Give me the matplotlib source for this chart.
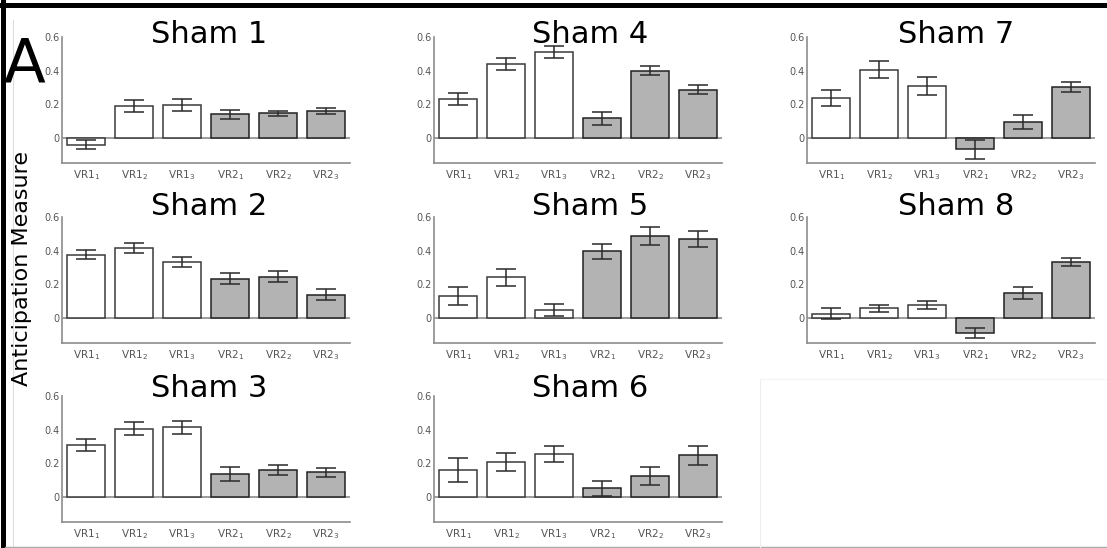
import matplotlib
matplotlib.use("Agg")
import matplotlib.pyplot as plt
from matplotlib.lines import Line2D

# Conditions on the x axis (sessions 1-3 of VR1 and VR2)
categories = [r"VR1$_1$", r"VR1$_2$", r"VR1$_3$", r"VR2$_1$", r"VR2$_2$", r"VR2$_3$"]
yticks = [0, 0.2, 0.4, 0.6]
ytick_labels = ["0", "0.2", "0.4", "0.6"]

# Mean anticipation measure and error per animal
sham1_mean = [-0.040, 0.188, 0.196, 0.139, 0.147, 0.160]
sham1_err = [0.025, 0.036, 0.035, 0.026, 0.015, 0.020]
sham2_mean = [0.376, 0.416, 0.331, 0.233, 0.245, 0.137]
sham2_err = [0.028, 0.029, 0.030, 0.032, 0.031, 0.032]
sham3_mean = [0.309, 0.406, 0.414, 0.135, 0.158, 0.145]
sham3_err = [0.038, 0.037, 0.038, 0.043, 0.031, 0.029]
sham4_mean = [0.232, 0.440, 0.511, 0.115, 0.398, 0.287]
sham4_err = [0.037, 0.034, 0.036, 0.040, 0.027, 0.028]
sham5_mean = [0.131, 0.240, 0.044, 0.396, 0.487, 0.469]
sham5_err = [0.054, 0.050, 0.036, 0.044, 0.056, 0.045]
sham6_mean = [0.160, 0.208, 0.255, 0.050, 0.123, 0.246]
sham6_err = [0.069, 0.053, 0.045, 0.046, 0.053, 0.055]
sham7_mean = [0.236, 0.406, 0.307, -0.069, 0.093, 0.303]
sham7_err = [0.048, 0.050, 0.054, 0.055, 0.043, 0.032]
sham8_mean = [0.024, 0.057, 0.075, -0.091, 0.147, 0.331]
sham8_err = [0.033, 0.020, 0.025, 0.032, 0.037, 0.023]

panels = [
    ("Sham 1", sham1_mean, sham1_err, 0, 0),
    ("Sham 2", sham2_mean, sham2_err, 1, 0),
    ("Sham 3", sham3_mean, sham3_err, 2, 0),
    ("Sham 4", sham4_mean, sham4_err, 0, 1),
    ("Sham 5", sham5_mean, sham5_err, 1, 1),
    ("Sham 6", sham6_mean, sham6_err, 2, 1),
    ("Sham 7", sham7_mean, sham7_err, 0, 2),
    ("Sham 8", sham8_mean, sham8_err, 1, 2),
]

W, H = 1107, 548
fig = plt.figure(figsize=(W / 100, H / 100), dpi=100)
fig.patch.set_facecolor("white")


def fx(px):
    return px / W


def fy(py):
    return 1 - py / H


col_left = [62, 434, 807]
col_width = 288
row_top = [37, 217, 396]
row_height = 126
title_x = [209, 590, 956]
title_base = [43, 215, 397]

axis_grey = "#8c8c8c"
label_grey = "#555555"
fill_grey = "#b3b3b3"

for name, mean, err, r, c in panels:
    ax = fig.add_axes([fx(col_left[c]), fy(row_top[r] + row_height),
                       fx(col_width), row_height / H])
    x = list(range(len(categories)))
    colors = ["white"] * 3 + [fill_grey] * 3
    edges = ["#3a3a3a"] * 3 + ["#222222"] * 3
    ax.axhline(0, color=axis_grey, lw=1.2, zorder=1)
    ax.bar(x, mean, width=0.8, color=colors, edgecolor=edges, linewidth=1.1,
           zorder=2)
    ax.errorbar(x, mean, yerr=err, fmt="none", ecolor="#2a2a2a",
                elinewidth=1.1, capsize=7, capthick=1.1, zorder=3)
    ax.set_xlim(-0.5, 5.5)
    ax.set_ylim(-0.15, 0.6)
    ax.set_xticks(x)
    ax.set_xticklabels(categories, fontsize=7.5, color=label_grey)
    ax.set_yticks(yticks)
    ax.set_yticklabels(ytick_labels, fontsize=7, color=label_grey)
    ax.tick_params(axis="x", length=0, pad=4)
    ax.tick_params(axis="y", length=0, pad=1.5)
    for side in ("top", "right"):
        ax.spines[side].set_visible(False)
    for side in ("left", "bottom"):
        ax.spines[side].set_color(axis_grey)
        ax.spines[side].set_linewidth(1.2)
    ax.patch.set_alpha(0)
    fig.text(fx(title_x[c]), fy(title_base[r]), name, fontsize=22,
             ha="center", va="baseline", color="black")

# Shared y label and panel letter
fig.text(fx(22), fy(269), "Anticipation Measure", rotation=90, fontsize=16,
         ha="center", va="center", color="black")
fig.text(fx(4), fy(82), "A", fontsize=44, ha="left", va="baseline",
         color="black")

# Frame lines around the panel block
frame = [
    ((0, W), (4.5, 4.5), "black", 3.6),
    ((2.5, 2.5), (0, H), "black", 3.6),
    ((13, 13), (20, H), "#dddddd", 0.8),
    ((5, W), (546.5, 546.5), "#aaaaaa", 1.0),
    ((760, 760), (379, H), "#eeeeee", 0.8),
    ((760, W), (379, 379), "#f4f4f4", 0.8),
]
for xs, ys, col, lw in frame:
    fig.add_artist(Line2D([fx(v) for v in xs], [fy(v) for v in ys],
                          color=col, lw=lw, transform=fig.transFigure))

fig.savefig("out.png", dpi=100, facecolor="white")
